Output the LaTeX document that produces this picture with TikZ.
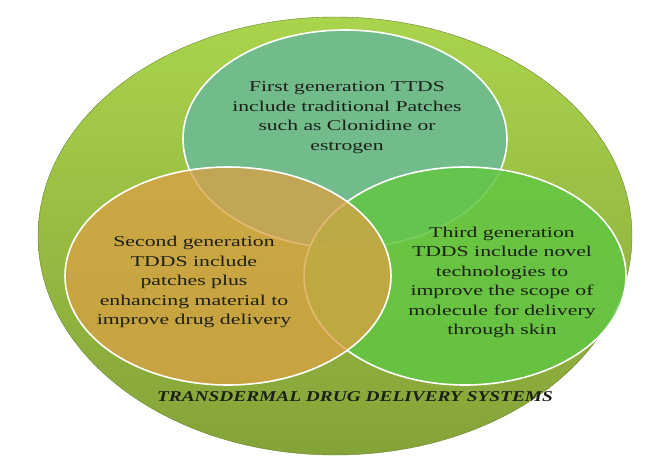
\documentclass[tikz,border=0pt]{standalone}
\usepackage{fontspec}
\setmainfont{Liberation Serif}
\definecolor{outerTop}{RGB}{170,212,76}
\definecolor{outerBot}{RGB}{132,163,56}
\definecolor{firstGen}{RGB}{114,188,140}
\definecolor{secondGen}{RGB}{220,160,67}
\definecolor{thirdGen}{RGB}{98,198,67}
\definecolor{genText}{RGB}{28,32,24}
\newcommand{\widetext}[2]{\scalebox{#1}[1]{\begin{tabular}{@{}c@{}}#2\end{tabular}}}

\begin{document}
\begin{tikzpicture}[x=1pt,y=-1pt,
    ring/.style={draw=white, line width=1.6pt},
    gen/.style={inner sep=0pt, text=genText, font=\fontsize{15}{19.5}\selectfont}]

\useasboundingbox (0,0) rectangle (663,455);

\coordinate (tdds) at (335,236);
\coordinate (first) at (345,139);
\coordinate (second) at (228,276);
\coordinate (third) at (465,276);

\shade [top color=outerTop, bottom color=outerBot, draw=outerBot!80!black, line width=0.4pt]
    (tdds) ellipse (297pt and 219pt);

\fill [firstGen] (first) ellipse (162pt and 109pt);
\draw [ring] (first) ellipse (162pt and 109pt);
\fill [thirdGen, fill opacity=0.85] (third) ellipse (161pt and 109pt);
\draw [ring] (third) ellipse (161pt and 109pt);
\fill [secondGen, fill opacity=0.75] (second) ellipse (163pt and 109pt);
\draw [ring] (second) ellipse (163pt and 109pt);

\node [gen] (firstText) at (347,117) {\widetext{1.44}{First generation TTDS\\include traditional Patches\\such as Clonidine or\\estrogen}};
\node [gen] (secondText) at (194,282) {\widetext{1.45}{Second generation\\TDDS include\\patches plus\\enhancing material to\\improve drug delivery}};
\node [gen] (thirdText) at (502,282) {\widetext{1.45}{Third generation\\TDDS include novel\\technologies to\\improve the scope of\\molecule for delivery\\through skin}};

\node [inner sep=0pt, text=genText, font=\fontsize{15}{18}\selectfont\bfseries\itshape] (title) at (355,397)
    {\scalebox{1.29}[1]{TRANSDERMAL DRUG DELIVERY SYSTEMS}};

\end{tikzpicture}
\end{document}
